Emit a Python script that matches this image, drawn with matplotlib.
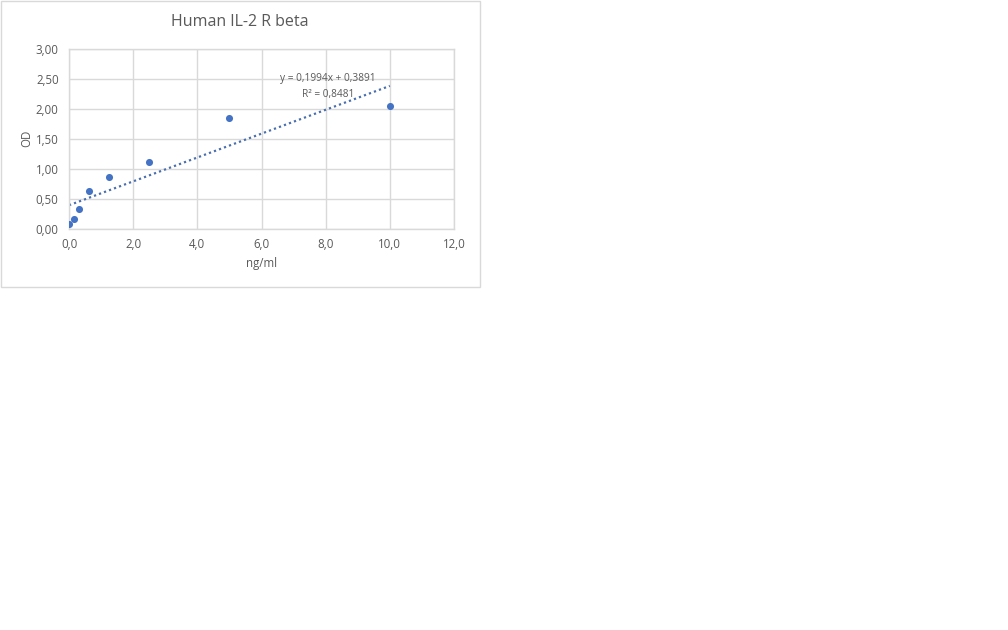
import matplotlib.pyplot as plt
from matplotlib.patches import Rectangle
from matplotlib.ticker import FuncFormatter, MultipleLocator

# concentration (ng/ml) vs optical density
conc = [0.0, 0.156, 0.3125, 0.625, 1.25, 2.5, 5.0, 10.0]
od = [0.067, 0.167, 0.318, 0.619, 0.853, 1.104, 1.84, 2.052]

# linear trendline as reported on the chart
slope = 0.1994
intercept = 0.3891
r_squared = 0.8481

title = "Human IL-2 R beta"
x_label = "ng/ml"
y_label = "OD"

plt.rcParams["font.family"] = ["Open Sans", "DejaVu Sans"]

W, H = 1008, 630
fig = plt.figure(figsize=(W / 100, H / 100), dpi=100)

# chart frame (top-left area of the image)
fig.patches.append(Rectangle((0.5 / W, 1 - 287.5 / H), 479 / W, 287 / H,
                             transform=fig.transFigure, fill=False,
                             edgecolor="#d9d9d9", linewidth=1))

ax = fig.add_axes([69 / W, 1 - 228.5 / H, 385 / W, 179.5 / H])

grid_color = "#d9d9d9"
text_color = "#595959"

ax.scatter(conc, od, s=26, color="#4472C4", zorder=3, linewidths=0)

x_fit = [min(conc), max(conc)]
y_fit = [slope * x + intercept for x in x_fit]
ax.plot(x_fit, y_fit, color="#4a6fae", linewidth=1.6,
        linestyle=(0, (1, 1.4)), zorder=2)

ax.set_xlim(0, 12)
ax.set_ylim(0, 3)
ax.xaxis.set_major_locator(MultipleLocator(2))
ax.yaxis.set_major_locator(MultipleLocator(0.5))
ax.xaxis.set_major_formatter(FuncFormatter(lambda v, p: f"{v:.1f}".replace(".", ",")))
ax.yaxis.set_major_formatter(FuncFormatter(lambda v, p: f"{v:.2f}".replace(".", ",")))

ax.grid(True, color=grid_color, linewidth=1)
ax.set_axisbelow(True)
for sp in ax.spines.values():
    sp.set_color(grid_color)
    sp.set_linewidth(1)
ax.tick_params(length=0, labelsize=8.3, colors=text_color)
ax.tick_params(axis="y", pad=7.5)
ax.tick_params(axis="x", pad=7)

ax.set_xlabel(x_label, fontsize=8.3, color=text_color)
ax.set_ylabel(y_label, fontsize=8.3, color=text_color)
ax.xaxis.set_label_coords(0.5, -(264 - 228.5) / 179.5)
ax.yaxis.set_label_coords(-(69 - 27) / 385, 0.5)
ax.xaxis.label.set_va("center")
ax.yaxis.label.set_va("center")

fig.text(240 / W, 1 - 22 / H, title, ha="center", va="center",
         fontsize=11.5, color=text_color)

eq = f"y = {slope:.4f}x + {intercept:.4f}".replace(".", ",")
r2 = f"R² = {r_squared:.4f}".replace(".", ",")
fig.text(328 / W, 1 - 79 / H, eq, ha="center", va="center",
         fontsize=7.3, color=text_color)
fig.text(328 / W, 1 - 94 / H, r2, ha="center", va="center",
         fontsize=7.3, color=text_color)

fig.savefig("out.png", dpi=100, facecolor="white")
